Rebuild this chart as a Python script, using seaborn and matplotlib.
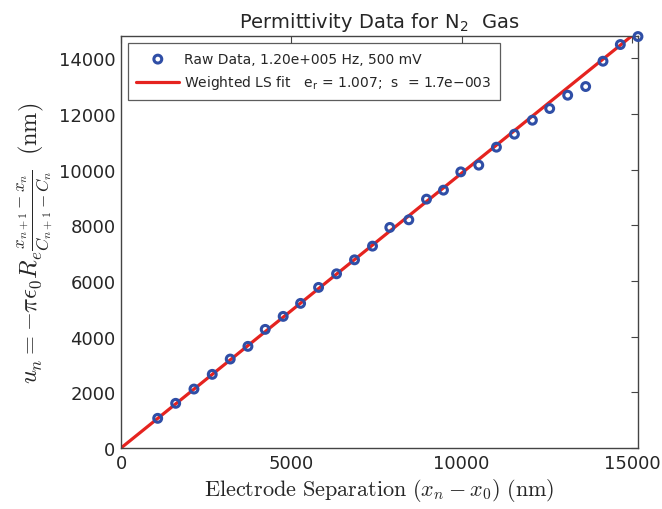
import numpy as np
import pandas as pd
import matplotlib
matplotlib.use("Agg")
import matplotlib.pyplot as plt
import seaborn as sns

# electrode separation (nm) and u_n (nm)
sep_nm = [1077, 1605, 2142, 2679, 3207, 3727, 4234, 4762, 5273, 5801,
          6329, 6857, 7385, 7893, 8451, 8970, 9469, 9977, 10505, 11024,
          11552, 12080, 12588, 13116, 13644, 14153, 14662, 15180]
u_nm = [1066, 1605, 2118, 2646, 3196, 3652, 4262, 4729, 5196, 5770,
        6259, 6761, 7253, 7925, 8198, 8941, 9264, 9921, 10162, 10808,
        11275, 11777, 12197, 12675, 12987, 13896, 14496, 14783]

# weighted LS fit line end points
fit_x = [0, 15180]
fit_y = [0, 14985]

raw_label = "Raw Data, 1.20e+005 Hz, 500 mV"
fit_label = r"Weighted LS fit   e$_\mathregular{r}$ = 1.007;  s  = 1.7e−003"

raw_df = pd.DataFrame({"x": sep_nm, "u": u_nm})
fit_df = pd.DataFrame({"x": fit_x, "u": fit_y})

sns.set_style("white")
plt.rcParams["font.family"] = ["DejaVu Sans"]
plt.rcParams["mathtext.fontset"] = "cm"

fig = plt.figure(figsize=(6.62, 5.10), dpi=100)
ax = fig.add_axes([0.1828, 0.1196, 0.7809, 0.8069])

sns.scatterplot(data=raw_df, x="x", y="u", ax=ax, marker="o", s=32,
                facecolor="none", edgecolor="#2f4ea6", linewidth=2.2,
                label=raw_label, zorder=3, clip_on=False)
sns.lineplot(data=fit_df, x="x", y="u", ax=ax, color="#e5231f",
             linewidth=2.3, label=fit_label, zorder=2)

ax.set_xlim(0, 15180)
ax.set_ylim(0, 14785)
ax.set_xticks([0, 5000, 10000, 15000])
ax.set_yticks(np.arange(0, 14001, 2000))
ax.tick_params(direction="in", length=5, width=0.8, color="#444444",
               top=True, right=True, labelsize=13, pad=4)
for sp in ax.spines.values():
    sp.set_color("#444444")
    sp.set_linewidth(1.0)

ax.set_title(r"Permittivity Data for N$_\mathregular{2}$  Gas", fontsize=14, pad=7)
ax.set_xlabel(r"$\mathrm{Electrode\ Separation}\ (x_n - x_0)\ (\mathrm{nm})$",
              fontsize=16, labelpad=3)
ax.set_ylabel(r"$u_n = -\pi\epsilon_0 R_e \frac{x_{n+1}-x_n}{C_{n+1}-C_n}\;\ (\mathrm{nm})$",
              fontsize=17.5, labelpad=2)

leg = ax.legend(loc="upper left", fontsize=10, frameon=True, fancybox=False,
                borderaxespad=0.5, handlelength=3.1, handletextpad=0.35,
                borderpad=0.6, labelspacing=0.55)
leg.get_frame().set_edgecolor("#333333")
leg.get_frame().set_linewidth(0.9)

fig.savefig("out.png", dpi=100)
